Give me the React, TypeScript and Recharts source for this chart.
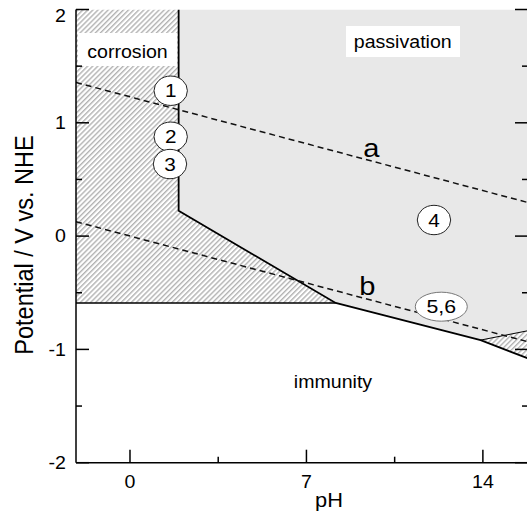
import {
  Area,
  ComposedChart,
  Line,
  ReferenceArea,
  ReferenceDot,
  XAxis,
  YAxis,
} from "recharts";

const FONT = '"Liberation Sans", Arial, Helvetica, sans-serif';
// the source figure is a little wider than tall, so text gets stretched sideways
const STRETCH = 1.12;

const pHRange = [-2.142, 15.79];
const potentialRange = [-2, 2];
const pHTicks = [0, 3.5, 7, 10.5, 14];
const pHLabels = [0, 7, 14];
const potentialTicks = [-2, -1.5, -1, -0.5, 0, 0.5, 1, 1.5, 2];
const potentialLabels = [-2, -1, 0, 1, 2];

// regions, [low, high] potential at each pH
const passivationZone = [
  { pH: 1.93, E: [0.223, 2] },
  { pH: 8.16, E: [-0.59, 2] },
  { pH: 13.91, E: [-0.918, 2] },
  { pH: 15.79, E: [-0.835, 2] },
];
const corrosionAcid = [
  { pH: -2.142, E: [-0.59, 2] },
  { pH: 1.93, E: [-0.59, 2] },
  { pH: 1.93, E: [-0.59, 0.223] },
  { pH: 8.16, E: [-0.59, -0.59] },
];
const corrosionAlkaline = [
  { pH: 13.91, E: [-0.918, -0.918] },
  { pH: 15.79, E: [-1.08, -0.835] },
];

// boundary lines
const boundaryMain = [
  { pH: 1.93, E: 2 },
  { pH: 1.93, E: 0.223 },
  { pH: 8.16, E: -0.59 },
  { pH: 13.91, E: -0.918 },
  { pH: 15.79, E: -1.08 },
];
const boundaryImmunity = [
  { pH: -2.142, E: -0.59 },
  { pH: 8.16, E: -0.59 },
];
const boundaryAlkaline = [
  { pH: 13.91, E: -0.918 },
  { pH: 15.79, E: -0.835 },
];
const waterA = [
  { pH: -2.142, E: 1.356 },
  { pH: 15.79, E: 0.296 },
];
const waterB = [
  { pH: -2.142, E: 0.127 },
  { pH: 15.79, E: -0.933 },
];

// annotations
const bubbles = [
  { label: "1", pH: 1.615, E: 1.283 },
  { label: "2", pH: 1.615, E: 0.877 },
  { label: "3", pH: 1.587, E: 0.636 },
  { label: "4", pH: 12.06, E: 0.142 },
  { label: "5,6", pH: 12.35, E: -0.623 },
];
const regionLabels = [
  { text: "corrosion", pH: -0.099, E: 1.572 },
  { text: "passivation", pH: 10.82, E: 1.658 },
  { text: "immunity", pH: 8.053, E: -1.343 },
];
const labelBoxes = [
  { pH: [-2.063, 1.864], E: [1.501, 1.793] },
  { pH: [8.569, 13.092], E: [1.581, 1.854] },
];
const lineLabels = [
  { text: "a", pH: 9.573, E: 0.701 },
  { text: "b", pH: 9.414, E: -0.52 },
];

const SText = ({ x, y, size, anchor = "middle", rotate = false, children }: any) => (
  <text
    transform={`translate(${x} ${y}) scale(${STRETCH} 1)${rotate ? " rotate(-90)" : ""}`}
    fontSize={size}
    fontFamily={FONT}
    textAnchor={anchor}
    fill="#000"
  >
    {children}
  </text>
);

const BottomTick = ({ x, y, payload }: any) => {
  const major = pHLabels.includes(payload.value);
  return (
    <g>
      <line x1={x} x2={x} y1={y} y2={y - (major ? 13 : 6)} stroke="#000" strokeWidth={1.5} />
      {major && (
        <SText x={x} y={y + 25.5} size={17.5}>
          {payload.value}
        </SText>
      )}
    </g>
  );
};

const TopTick = ({ x, y, payload }: any) => {
  const major = pHLabels.includes(payload.value);
  return <line x1={x} x2={x} y1={y} y2={y + (major ? 13 : 6)} stroke="#000" strokeWidth={1.5} />;
};

const LeftTick = ({ x, y, payload }: any) => {
  const major = potentialLabels.includes(payload.value);
  return (
    <g>
      <line x1={x} x2={x + (major ? 13 : 6)} y1={y} y2={y} stroke="#000" strokeWidth={1.5} />
      {major && (
        <SText x={x - 10} y={Math.max(y + 6.2, 22)} size={17.5} anchor="end">
          {payload.value}
        </SText>
      )}
    </g>
  );
};

const RightTick = ({ x, y, payload }: any) => {
  const major = potentialLabels.includes(payload.value);
  return <line x1={x} x2={x - (major ? 13 : 6)} y1={y} y2={y} stroke="#000" strokeWidth={1.5} />;
};

const Bubble = ({ cx, cy, label }: any) => {
  const wide = label.length > 1;
  return (
    <g>
      <ellipse
        cx={cx}
        cy={cy}
        rx={wide ? 26 : 16.7}
        ry={wide ? 14.5 : 14.7}
        fill="#fff"
        stroke={wide ? "#777" : "#222"}
        strokeWidth={1}
      />
      <SText x={cx} y={cy + 6.5} size={wide ? 19 : 18.5}>
        {label}
      </SText>
    </g>
  );
};

const axisLine = { stroke: "#000", strokeWidth: 1.5 };

export default function App() {
  return (
    <div
      style={{
        position: "fixed",
        left: 0,
        top: 0,
        width: 527,
        height: 516,
        overflow: "hidden",
        background: "#fff",
      }}
    >
      <ComposedChart width={540} height={516} margin={{ top: 9.5, right: 0, bottom: 23.3, left: 0 }}>
        <defs>
          <pattern id="hatch" patternUnits="userSpaceOnUse" width="3.6" height="8" patternTransform="rotate(45)">
            <rect x="0" y="0" width="1.4" height="8" fill="#b2b2b2" />
          </pattern>
        </defs>
        <XAxis
          dataKey="pH"
          type="number"
          domain={pHRange}
          allowDataOverflow
          ticks={pHTicks}
          interval={0}
          tickSize={0}
          tickMargin={0}
          tickLine={false}
          axisLine={axisLine}
          height={30}
          tick={(p: any) => <BottomTick {...p} />}
          label={(p: any) => (
            <SText x={p.viewBox.x + 253} y={p.viewBox.y + 44.3} size={19.5}>
              pH
            </SText>
          )}
        />
        <XAxis
          xAxisId="top"
          orientation="top"
          dataKey="pH"
          type="number"
          domain={pHRange}
          allowDataOverflow
          ticks={pHTicks}
          interval={0}
          tickSize={0}
          tickMargin={0}
          tickLine={false}
          axisLine={axisLine}
          height={0}
          tick={(p: any) => <TopTick {...p} />}
        />
        <YAxis
          type="number"
          domain={potentialRange}
          allowDataOverflow
          ticks={potentialTicks}
          interval={0}
          tickSize={0}
          tickMargin={0}
          tickLine={false}
          axisLine={axisLine}
          width={76}
          tick={(p: any) => <LeftTick {...p} />}
          label={(p: any) => (
            <SText x={p.viewBox.x + 33} y={245} size={23.5} rotate>
              Potential / V vs. NHE
            </SText>
          )}
        />
        <YAxis
          yAxisId="right"
          orientation="right"
          type="number"
          domain={potentialRange}
          allowDataOverflow
          ticks={potentialTicks}
          interval={0}
          tickSize={0}
          tickMargin={0}
          tickLine={false}
          axisLine={false}
          width={12}
          tick={(p: any) => <RightTick {...p} />}
        />

        <Area data={passivationZone} dataKey="E" type="linear" fill="#e8e8e8" fillOpacity={1} stroke="none" isAnimationActive={false} />
        <Area data={corrosionAcid} dataKey="E" type="linear" fill="url(#hatch)" fillOpacity={1} stroke="none" isAnimationActive={false} />
        <Area data={corrosionAlkaline} dataKey="E" type="linear" fill="url(#hatch)" fillOpacity={1} stroke="none" isAnimationActive={false} />

        {labelBoxes.map((b, i) => (
          <ReferenceArea key={i} x1={b.pH[0]} x2={b.pH[1]} y1={b.E[0]} y2={b.E[1]} fill="#fff" fillOpacity={1} stroke="none" />
        ))}

        <Line data={boundaryMain} dataKey="E" type="linear" stroke="#000" strokeWidth={1.8} dot={false} activeDot={false} isAnimationActive={false} />
        <Line data={boundaryImmunity} dataKey="E" type="linear" stroke="#000" strokeWidth={1.5} dot={false} activeDot={false} isAnimationActive={false} />
        <Line data={boundaryAlkaline} dataKey="E" type="linear" stroke="#000" strokeWidth={1} dot={false} activeDot={false} isAnimationActive={false} />
        <Line data={waterA} dataKey="E" type="linear" stroke="#111" strokeWidth={1.5} strokeDasharray="6 4" dot={false} activeDot={false} isAnimationActive={false} />
        <Line data={waterB} dataKey="E" type="linear" stroke="#111" strokeWidth={1.5} strokeDasharray="6 4" dot={false} activeDot={false} isAnimationActive={false} />

        {bubbles.map((b) => (
          <ReferenceDot key={b.label} x={b.pH} y={b.E} r={0} shape={(p: any) => <Bubble cx={p.cx} cy={p.cy} label={b.label} />} />
        ))}
        {regionLabels.map((l) => (
          <ReferenceDot
            key={l.text}
            x={l.pH}
            y={l.E}
            r={0}
            shape={(p: any) => (
              <SText x={p.cx} y={p.cy} size={17.5}>
                {l.text}
              </SText>
            )}
          />
        ))}
        {lineLabels.map((l) => (
          <ReferenceDot
            key={l.text}
            x={l.pH}
            y={l.E}
            r={0}
            shape={(p: any) => (
              <SText x={p.cx} y={p.cy} size={26}>
                {l.text}
              </SText>
            )}
          />
        ))}
      </ComposedChart>
    </div>
  );
}
